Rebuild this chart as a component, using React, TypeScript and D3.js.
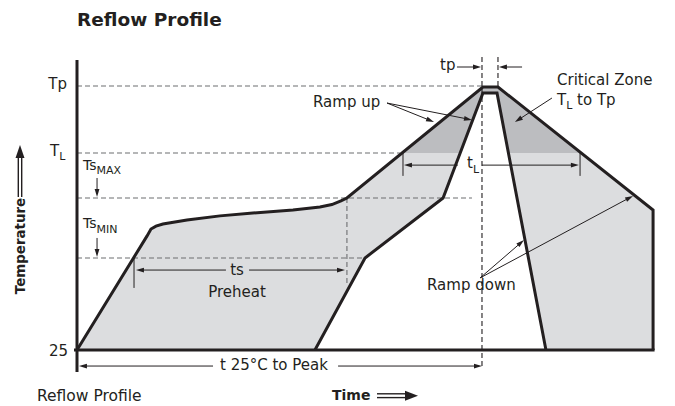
import React from "react";
import * as d3 from "d3";

// schematic units: time 0..300, temperature 0..100 (25 = 0, Tp = 100)
const outerProfile: [number, number][] = [
	[0, 0], [36.3, 43.3], [38.4, 46.0], [41.0, 47.1], [44.6, 47.9], [57.1, 49.4],
	[74.2, 51.0], [91.3, 52.1], [112.1, 53.2], [126.1, 54.4], [132.3, 55.3],
	[137.0, 56.7], [140.1, 57.8], [210.7, 100], [218.5, 100], [299.0, 53.2], [299.0, 0]
];

const innerProfile: [number, number][] = [
	[123.5, 0], [149.5, 35.0], [190.0, 57.8], [210.7, 97.7], [218.0, 97.7], [243.4, 0]
];

// reference levels: [temp, where the dashed line stops]
const levelTp = [100.4, 210.2];
const levelTL = [74.9, 167.6];
const levelTsMax = [57.8, 205.0];
const levelTsMin = [35.0, 149.5];

// dimension segments, arrowhead at the second point
const dimSegments: [number, number, number, number][] = [
	[70.6, -6.1, 1.0, -6.1],
	[135.5, -6.1, 210.2, -6.1],
	[77.3, 30.4, 30.6, 30.4],
	[89.3, 30.4, 139.1, 30.4],
	[197.7, 70.3, 169.7, 70.3],
	[210.2, 70.3, 260.5, 70.3],
	[197.2, 107.6, 209.7, 107.6],
	[231.0, 107.6, 219.0, 107.6],
	[10.4, 65.4, 10.4, 58.2],
	[10.4, 42.6, 10.4, 35.4]
];

// pointer arrows for the captions
const pointers: [number, number, number, number][] = [
	[160.9, 93.9, 185.3, 86.7],
	[160.9, 93.9, 205.0, 87.5],
	[246.5, 95.8, 227.3, 86.7],
	[209.2, 27.4, 232.0, 41.8],
	[209.2, 27.4, 288.6, 58.6]
];

// solid extension ticks [t, temp1, temp2]
const ticks: [number, number, number][] = [
	[29.6, 35.0, 23.6],
	[169.2, 74.9, 66.2],
	[261.1, 74.9, 66.2]
];

// vertical dashed guides [t, temp1, temp2]
const vGuides: [number, number, number, string][] = [
	[210.2, 111.4, -6.1, "#231f20"],
	[218.5, 111.4, 100, "#231f20"],
	[140.1, 57.8, 24.7, "#6d6e71"]
];

const ink = "#231f20";
const font = "DejaVu Sans";

const xS = d3.scaleLinear().domain([0, 300]).range([77, 655]);
const yS = d3.scaleLinear().domain([0, 100]).range([350, 87]);

const Arrow = ({x1, y1, x2, y2, head = 8, half = 2.4, w = 1}) => {
	const a = Math.atan2(y2 - y1, x2 - x1);
	const bx = x2 - head * Math.cos(a);
	const by = y2 - head * Math.sin(a);
	const px = -Math.sin(a) * half;
	const py = Math.cos(a) * half;
	return (
		<g>
			<line x1={x1} y1={y1} x2={bx + Math.cos(a) * 2} y2={by + Math.sin(a) * 2} stroke={ink} strokeWidth={w} />
			<polygon points={`${x2},${y2} ${bx + px},${by + py} ${bx - px},${by - py}`} fill={ink} />
		</g>
	);
};

export default function App() {
	const line = d3.line<[number, number]>().x(d => xS(d[0])).y(d => yS(d[1]));
	const shape = [...outerProfile, ...[...innerProfile].reverse()];

	const hLevels = [levelTp, levelTL, levelTsMax, levelTsMin];

	return (
		<svg width={675} height={406} style={{position: "absolute", left: 0, top: 0}}
			fontFamily={font} fill={ink}>
			<defs>
				<clipPath id="critical">
					<rect x={0} y={0} width={675} height={yS(levelTL[0])} />
				</clipPath>
			</defs>

			<text x={77} y={26} fontSize={18.5} fontWeight="bold">Reflow Profile</text>

			<path d={line(shape) + "Z"} fill="#dcdddf" />
			<path d={line(shape) + "Z"} fill="#bcbdc0" clipPath="url(#critical)" />

			{hLevels.map((l, i) => (
				<line key={i} x1={xS(0)} x2={xS(l[1])} y1={yS(l[0])} y2={yS(l[0])}
					stroke="#6d6e71" strokeWidth={1.1} strokeDasharray="5,3" />
			))}
			{vGuides.map((g, i) => (
				<line key={i} x1={xS(g[0])} x2={xS(g[0])} y1={yS(g[1])} y2={yS(g[2])}
					stroke={g[3]} strokeWidth={1.1} strokeDasharray="5,3" />
			))}

			<path d={line(outerProfile)} fill="none" stroke={ink} strokeWidth={3} />
			<path d={line(innerProfile)} fill="none" stroke={ink} strokeWidth={3} />
			<line x1={xS(0) - 3} x2={xS(299) + 1.5} y1={yS(0)} y2={yS(0)} stroke={ink} strokeWidth={3} />
			<line x1={xS(0)} x2={xS(0)} y1={60} y2={372} stroke={ink} strokeWidth={3} />

			{ticks.map((t, i) => (
				<line key={i} x1={xS(t[0])} x2={xS(t[0])} y1={yS(t[1])} y2={yS(t[2])} stroke={ink} strokeWidth={1} />
			))}
			{dimSegments.map((s, i) => (
				<Arrow key={i} x1={xS(s[0])} y1={yS(s[1])} x2={xS(s[2])} y2={yS(s[3])} />
			))}
			{pointers.map((s, i) => (
				<Arrow key={i} x1={xS(s[0])} y1={yS(s[1])} x2={xS(s[2])} y2={yS(s[3])} />
			))}

			{/* level labels */}
			<g fontSize={15}>
				<text x={67} y={yS(levelTp[0]) + 3.5} textAnchor="end">Tp</text>
				<text x={50} y={yS(levelTL[0]) + 2.5}>T<tspan fontSize={11} dy={4.5}>L</tspan></text>
				<text x={68} y={yS(0) + 6} textAnchor="end">25</text>
				<text x={83} y={170} fontSize={14}>Ts<tspan fontSize={11} dy={4}>MAX</tspan></text>
				<text x={83} y={228} fontSize={14}>Ts<tspan fontSize={11} dy={5}>MIN</tspan></text>

				<text x={237} y={275} textAnchor="middle">ts</text>
				<text x={237} y={297} textAnchor="middle">Preheat</text>
				<text x={220} y={370}>t 25°C to Peak</text>
				<text x={467} y={168}>t<tspan fontSize={11} dy={5}>L</tspan></text>
				<text x={440} y={70}>tp</text>
				<text x={313} y={107}>Ramp up</text>
				<text x={557} y={85}>Critical Zone</text>
				<text x={557} y={105}>T<tspan fontSize={11} dy={4}>L</tspan><tspan dy={-4}> to Tp</tspan></text>
				<text x={427} y={290}>Ramp down</text>
				<text x={37} y={401} fontSize={15.5}>Reflow Profile</text>
			</g>

			{/* axis titles with double arrows */}
			<text transform="translate(25,246) rotate(-90)" textAnchor="middle" fontSize={13.4} fontWeight="bold">Temperature</text>
			<line x1={18.3} x2={18.3} y1={156} y2={197} stroke={ink} strokeWidth={1.4} />
			<line x1={21.7} x2={21.7} y1={156} y2={197} stroke={ink} strokeWidth={1.4} />
			<polygon points="20,145 15.5,158 24.5,158" fill={ink} />

			<text x={332} y={400} fontSize={14} fontWeight="bold">Time</text>
			<line x1={377} x2={408} y1={393.8} y2={393.8} stroke={ink} strokeWidth={1.4} />
			<line x1={377} x2={408} y1={397.6} y2={397.6} stroke={ink} strokeWidth={1.4} />
			<polygon points="418,395.7 405,390.7 405,400.7" fill={ink} />
		</svg>
	);
}
